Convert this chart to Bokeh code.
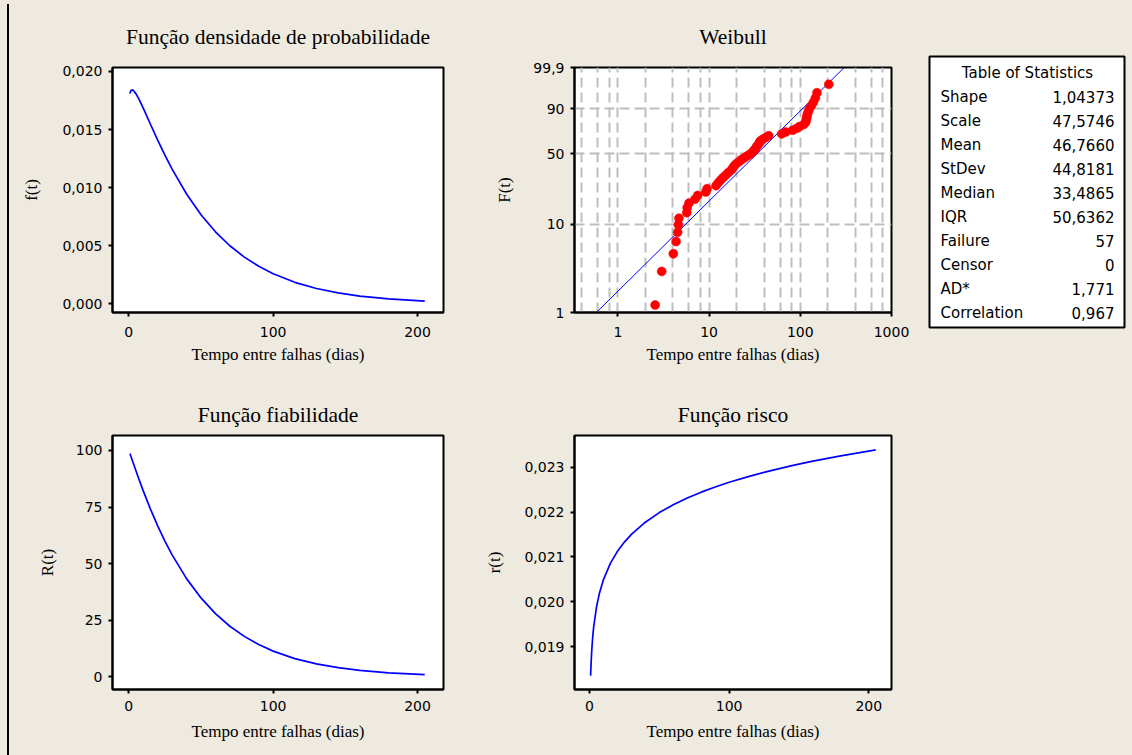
import numpy as np
from bokeh.plotting import figure
from bokeh.layouts import row, column
from bokeh.models import Range1d, FixedTicker, CustomJSTickFormatter, ColumnDataSource, Spacer
from bokeh.core.properties import value
from bokeh.embed import file_html
from bokeh.resources import INLINE

BG = "#EEEAE0"

# ---------------- data ----------------
t_curve = [0.8, 1, 1.5, 2.3, 3, 5, 7, 10, 15, 20, 25, 30, 40, 50, 60, 70, 80, 90,
           100, 115, 130, 145, 160, 180, 205]
pdf_vals = [0.018094, 0.018204, 0.018357, 0.018420, 0.018385, 0.018075, 0.017622,
            0.016840, 0.015456, 0.014092, 0.012797, 0.011589, 0.009452, 0.007669,
            0.006199, 0.004997, 0.004019, 0.003226, 0.002584, 0.001848, 0.001319,
            0.000939, 0.000667, 0.000421, 0.000237]
rel_vals = [98.60, 98.24, 97.33, 95.85, 94.57, 90.92, 87.35, 82.17, 74.10, 66.71,
            60.00, 53.90, 43.41, 34.88, 27.97, 22.39, 17.91, 14.30, 11.40, 8.11,
            5.75, 4.08, 2.88, 1.81, 1.01]
haz_vals = [0.018350, 0.018530, 0.018861, 0.019217, 0.019442, 0.019881, 0.020175,
            0.020493, 0.020859, 0.021123, 0.021330, 0.021501, 0.021773, 0.021987,
            0.022163, 0.022313, 0.022443, 0.022559, 0.022663, 0.022802, 0.022925,
            0.023035, 0.023134, 0.023254, 0.023386]

fail_times = [2.56, 3.02, 4.05, 4.34, 4.52, 4.60, 4.67, 5.68, 5.75, 6.0,
              7.0, 7.5, 9.2, 9.5, 11.9, 12.6, 13.4, 14.3, 15.3, 16.3,
              17.5, 18.2, 18.9, 19.9, 21.4, 22.8, 24.6, 26.5, 28.6, 30.1,
              31.3, 32.5, 33.3, 34.6, 35.5, 36.4, 38.7, 41.8, 45.0, 62.5,
              69.1, 82.4, 91.1, 98.3, 108.7, 114.3, 115.6, 117.0, 118.4, 119.8,
              122.8, 125.9, 132.4, 139.2, 146.3, 152.3, 205.4]
fail_pct = [1.22, 2.96, 4.70, 6.45, 8.19, 9.93, 11.67, 13.41, 15.16, 16.90,
            18.64, 20.38, 22.13, 23.87, 25.61, 27.35, 29.09, 30.84, 32.58, 34.32,
            36.06, 37.80, 39.55, 41.29, 43.03, 44.77, 46.52, 48.26, 50.00, 51.74,
            53.48, 55.23, 56.97, 58.71, 60.45, 62.20, 63.94, 65.68, 67.42, 69.16,
            70.91, 72.65, 74.39, 76.13, 77.87, 79.62, 81.36, 83.10, 84.84, 86.59,
            88.33, 90.07, 91.81, 93.55, 95.30, 97.04, 98.78]
fit_t = [0.58, 303.0]
fit_pct = [1.0, 99.9]

weib_y_ticks = [1, 10, 50, 90, 99.9]
weib_y_grid = [10, 50, 90]
weib_x_ticks = [1, 10, 100, 1000]
weib_x_grid = [0.4, 0.6, 0.8, 1, 2, 4, 6, 8, 10, 20, 40, 60, 80, 100, 200, 400, 600, 800]
lin_x_ticks = [0, 100, 200]
pdf_ticks = [0.0, 0.005, 0.010, 0.015, 0.020]
rel_ticks = [0, 25, 50, 75, 100]
haz_ticks = [0.019, 0.020, 0.021, 0.022, 0.023]

stat_names = ["Shape", "Scale", "Mean", "StDev", "Median", "IQR", "Failure",
              "Censor", "AD*", "Correlation"]
stat_values = ["1,04373", "47,5746", "46,7660", "44,8181", "33,4865", "50,6362",
               "57", "0", "1,771", "0,967"]

XLAB = "Tempo entre falhas (dias)"


def wb(p):
    return np.log(-np.log(1 - np.asarray(p, dtype=float) / 100.0))


comma3 = CustomJSTickFormatter(code="return tick.toFixed(3).replace('.', ',');")


def make_fig(width, height, xr, yr, borders, title, standoff, xlabel, ylabel,
             x_type="linear", ylab_standoff=16, xtick_standoff=9, xlab_standoff=7):
    p = figure(width=width, height=height, x_range=xr, y_range=yr, x_axis_type=x_type,
               output_backend="svg", toolbar_location=None, title=title,
               min_border_left=borders[0], min_border_right=borders[1],
               min_border_top=borders[2], min_border_bottom=borders[3])
    p.background_fill_color = "white"
    p.border_fill_color = BG
    p.outline_line_color = "black"
    p.outline_line_width = 2
    p.title.text_font = "Liberation Serif"
    p.title.text_font_size = "21.5px"
    p.title.text_font_style = "normal"
    p.title.text_color = "black"
    p.title.align = "center"
    p.title.standoff = standoff
    p.grid.visible = False
    for ax in list(p.xaxis) + list(p.yaxis):
        ax.axis_line_width = 2
        ax.axis_line_color = "black"
        ax.major_tick_out = 4
        ax.major_tick_in = 0
        ax.major_tick_line_width = 2
        ax.minor_tick_out = 0
        ax.minor_tick_in = 0
        ax.major_label_text_font = "DejaVu Sans"
        ax.major_label_text_font_size = "14px"
        ax.major_label_text_color = "black"
        ax.axis_label_text_font = "Liberation Serif"
        ax.axis_label_text_font_size = "17px"
        ax.axis_label_text_font_style = "normal"
        ax.axis_label_text_color = "black"
    p.xaxis.axis_label = xlabel
    p.yaxis.axis_label = ylabel
    p.xaxis.major_label_standoff = xtick_standoff
    p.xaxis.axis_label_standoff = xlab_standoff
    p.yaxis.major_label_standoff = 6
    p.yaxis.axis_label_standoff = ylab_standoff
    return p


# --- pdf ---
f1 = make_fig(460, 380, Range1d(-11.3, 218.0), Range1d(-0.00075, 0.020344),
              (102, 27, 67, 68), "Função densidade de probabilidade", 38, XLAB, "f(t)",
              ylab_standoff=18, xtick_standoff=10, xlab_standoff=5)
f1.xaxis.ticker = FixedTicker(ticks=lin_x_ticks)
f1.yaxis.ticker = FixedTicker(ticks=pdf_ticks)
f1.yaxis.formatter = comma3
f1.line(t_curve, pdf_vals, line_color="#0000FF", line_width=1.7)

# --- weibull probability plot ---
f2 = make_fig(450, 380, Range1d(0.334, 1000), Range1d(float(wb(1.0)), float(wb(99.9))),
              (104, 29, 67, 67), "Weibull", 38, XLAB, "F(t)", x_type="log",
              ylab_standoff=16, xtick_standoff=10, xlab_standoff=5)
f2.xaxis.ticker = FixedTicker(ticks=weib_x_ticks)
f2.xaxis.formatter = CustomJSTickFormatter(code="return String(Math.round(tick));")
f2.yaxis.ticker = FixedTicker(ticks=[float(v) for v in wb(weib_y_ticks)])
f2.yaxis.formatter = CustomJSTickFormatter(code="""
const F = 100 * (1 - Math.exp(-Math.exp(tick)));
if (F > 99) { return F.toFixed(1).replace('.', ','); }
return String(Math.round(F));
""")
f2.grid.visible = True
f2.xgrid.ticker = FixedTicker(ticks=weib_x_grid)
f2.ygrid.ticker = FixedTicker(ticks=[float(v) for v in wb(weib_y_grid)])
f2.grid.grid_line_color = "#BEBEBE"
f2.grid.grid_line_width = 2
f2.grid.grid_line_dash = "10 5"
f2.line(fit_t, list(wb(fit_pct)), line_color="#0000FF", line_width=1)
wsrc = ColumnDataSource(dict(t=fail_times, w=list(wb(fail_pct))))
f2.scatter("t", "w", source=wsrc, marker="circle", size=9, fill_color="#FF0000",
           line_color="#FF0000", line_width=0.5)

# --- reliability ---
f3 = make_fig(460, 375, Range1d(-11.3, 218.0), Range1d(-5.54, 106.6),
              (102, 27, 54, 66), "Função fiabilidade", 18, XLAB, "R(t)",
              ylab_standoff=16, xtick_standoff=7, xlab_standoff=8)
f3.xaxis.ticker = FixedTicker(ticks=lin_x_ticks)
f3.yaxis.ticker = FixedTicker(ticks=rel_ticks)
f3.line(t_curve, rel_vals, line_color="#0000FF", line_width=1.7)

# --- hazard ---
f4 = make_fig(450, 375, Range1d(-10.75, 216.3), Range1d(0.018041, 0.023707),
              (104, 29, 55, 66), "Função risco", 18, XLAB, "r(t)",
              ylab_standoff=17, xtick_standoff=7, xlab_standoff=8)
f4.xaxis.ticker = FixedTicker(ticks=lin_x_ticks)
f4.yaxis.ticker = FixedTicker(ticks=haz_ticks)
f4.yaxis.formatter = comma3
f4.line(t_curve, haz_vals, line_color="#0000FF", line_width=1.7)

# --- table of statistics ---
tf = figure(width=212, height=755, x_range=Range1d(0, 195), y_range=Range1d(9.625, -1.667),
            min_border_left=9, min_border_right=8, min_border_top=56, min_border_bottom=428,
            x_axis_location=None, y_axis_location=None, toolbar_location=None,
            output_backend="svg")
tf.grid.visible = False
tf.background_fill_color = "white"
tf.border_fill_color = BG
tf.outline_line_color = "black"
tf.outline_line_width = 2
tsrc = ColumnDataSource(dict(r=list(range(len(stat_names))), name=stat_names, val=stat_values))
tf.text(x=11, y="r", text="name", source=tsrc, text_font=value("DejaVu Sans"),
        text_font_size="15px", text_baseline="middle", text_align="left", text_color="black")
tf.text(x=185, y="r", text="val", source=tsrc, text_font=value("DejaVu Sans"),
        text_font_size="15px", text_baseline="middle", text_align="right", text_color="black")
tf.text(x=[98], y=[-1], text=["Table of Statistics"], text_font=value("DejaVu Sans"),
        text_font_size="15px", text_baseline="middle", text_align="center", text_color="black")

# --- left border line (decoration) ---
left_pad = Spacer(width=7, height=755, margin=0, styles={"background-color": BG})
left_line = column(
    Spacer(width=2, height=4, margin=0, styles={"background-color": BG}),
    Spacer(width=2, height=751, margin=0, styles={"background-color": "black"}),
    spacing=0, margin=0)
right_pad = Spacer(width=1, height=755, margin=0, styles={"background-color": BG})

grid = column(row(f1, f2, spacing=0), row(f3, f4, spacing=0), spacing=0, margin=0,
              styles={"background-color": BG})
layout = row(left_pad, left_line, right_pad, grid, tf, spacing=0, margin=0,
             styles={"background-color": BG})

open("out.html", "w").write(file_html(layout, INLINE))
